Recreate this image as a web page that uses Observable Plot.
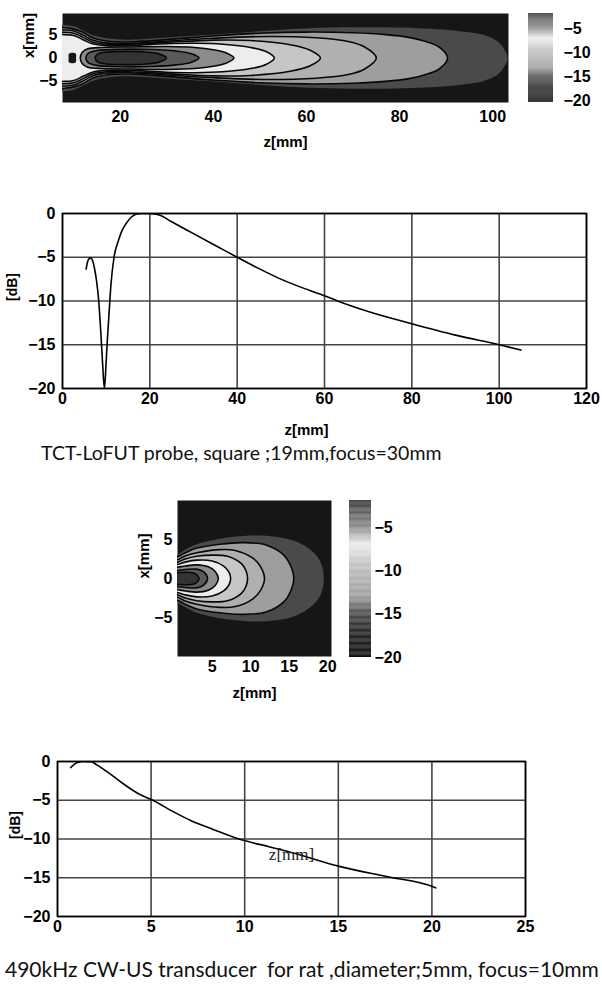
<!DOCTYPE html>
<html><head><meta charset="utf-8">
<script src="https://cdn.jsdelivr.net/npm/d3@7"></script>
<script src="https://cdn.jsdelivr.net/npm/@observablehq/plot@0.6"></script>
<style>
html,body{margin:0;padding:0;background:#fff}
body{width:602px;height:998px;position:relative;overflow:hidden}
.abs{position:absolute}
.cap{position:absolute;font-family:Lato,"Open Sans",sans-serif;color:#111;white-space:pre;line-height:1}
</style></head><body>
<div id="hm1" class="abs" style="left:0;top:0"></div>
<div id="cb1" class="abs" style="left:510px;top:0"></div>
<div id="ln1" class="abs" style="left:0;top:190px"></div>
<div id="cap1" class="cap" style="left:41px;top:443px;font-size:19.5px">TCT-LoFUT probe, square ;19mm,focus=30mm</div>
<div id="hm2" class="abs" style="left:0;top:490px"></div>
<div id="cb2" class="abs" style="left:330px;top:490px"></div>
<div id="ln2" class="abs" style="left:0;top:740px"></div>
<div id="cap2" class="cap" style="left:5px;top:958px;font-size:21px">490kHz CW-US transducer  for rat ,diameter;5mm, focus=10mm</div>
<script>
// ---------- colour map (dB -> grey) ----------
const cmapStops = [-20, -17, -15, -13, -11, -9, -7, -5, -3, -2];
const cmapGrays = ["#0e0e0e","#262626","#4a4a4a","#9e9e9e","#b0b0b0","#c6c6c6","#ededed","#8c8c8c","#5a5a5a","#333333"];
const barTicks = [-5, -10, -15, -20];

// ---------- TCT-LoFUT field: contour outlines (level dB, upper half-width points [z mm, x mm]) ----------
const fieldLevels1 = [-16, -14, -12, -10, -8, -6, -4, -2, -20];
const fieldOutlines1 = [
  [[4,7.2],[8,7.2],[10,6.9],[12,6.0],[14,5.0],[17,4.3],[21.6,4.0],[27.4,4.3],[35,4.8],[44,5.4],[52,6.0],[60.5,6.5],[70,6.7],[77,6.7],[84,6.5],[89.4,6.2],[94,5.7],[97.7,5.1],[100.5,4.0],[101.8,2.9],[103.2,0]],
  [[4,6.6],[8,6.6],[10,6.3],[12,5.6],[14,4.4],[17,3.7],[22,3.5],[30,4.0],[40,4.8],[50,5.4],[60,5.65],[70,5.5],[77,5.1],[82,4.5],[85.3,3.7],[88.5,2.4],[90.3,0]],
  [[4,6.0],[8,6.1],[10,5.9],[12,5.0],[14,3.9],[17,3.3],[22,3.2],[30,3.7],[40,4.3],[52,4.7],[62,4.4],[69,3.6],[72.5,2.4],[75,0]],
  [[4,5.4],[8,5.6],[10,5.4],[12,4.5],[14,3.5],[17,3.0],[22,3.0],[30,3.4],[40,3.9],[48,3.8],[56.5,2.9],[60.8,1.7],[63,0]],
  [[4,4.8],[8,5.1],[10,4.9],[12,4.0],[14,3.1],[17,2.7],[22,2.7],[30,3.1],[36,3.2],[42,3.0],[48,2.3],[51.3,1.4],[53.1,0]],
  [[11.4,0],[11.8,1.2],[13,2.0],[16,2.3],[22,2.4],[30,2.5],[36,2.3],[40,1.8],[42.8,1.1],[44.4,0]],
  [[12.6,0],[13.1,1.0],[15,1.6],[20,1.9],[27,1.85],[32,1.5],[35.3,0.9],[36.9,0]],
  [[14.6,0],[15.2,0.9],[17,1.3],[21,1.45],[25,1.35],[28.3,0.9],[29.9,0]],
  [[8.9,0],[9.0,1.0],[10.4,1.0],[10.5,0]]
];
const fieldLined1 = [false, true, true, true, true, true, true, true, false];
const zTicks1 = [20, 40, 60, 80, 100];
const xTicksField = [-5, 0, 5];

// ---------- TCT-LoFUT on-axis profile ----------
const zAxis1 = [5.4, 5.9, 6.4, 6.9, 7.3, 7.8, 8.3, 8.8, 9.2, 9.6, 10.0, 10.3, 10.6, 11.1, 11.8, 12.8, 13.5, 14.3, 15.0, 15.8, 17, 18, 20, 21, 22.3, 25, 30, 35, 40, 45, 50, 55, 60, 63, 70, 80, 90, 100, 105];
const dbAxis1 = [-6.35, -5.3, -5.07, -5.4, -6.2, -7.7, -10, -13.8, -17.3, -20, -16.9, -14.2, -11.9, -8.1, -5.0, -3.1, -2.1, -1.35, -0.85, -0.4, -0.05, 0, 0, -0.05, -0.2, -0.95, -2.3, -3.65, -5.0, -6.3, -7.5, -8.5, -9.4, -10.0, -11.2, -12.6, -13.9, -15.0, -15.6];
const lineXTicks1 = [0, 20, 40, 60, 80, 100, 120];
const dbTicks = [0, -5, -10, -15, -20];

// ---------- rat transducer field ----------
const fieldLevels2 = [-16, -14, -12, -10, -8, -6, -4, -2];
const fieldOutlines2 = [
  [[-1,2.9],[0.5,3.1],[1.5,3.7],[3,4.4],[6,5.1],[10,5.5],[13,5.4],[16,4.7],[18.3,3.2],[19.2,1.8],[19.5,0]],
  [[-1,2.6],[0.5,2.8],[1.5,3.3],[3,3.9],[6,4.4],[9,4.6],[12,4.3],[14.3,3.0],[15.2,1.6],[15.6,0]],
  [[-1,2.2],[0.5,2.4],[1.5,2.9],[3,3.3],[6,3.7],[8,3.6],[10.3,2.6],[11.3,1.5],[11.8,0]],
  [[-1,1.9],[0.5,2.1],[1.5,2.5],[3,2.85],[5,3.0],[7,2.85],[8.8,1.9],[9.4,1.0],[9.6,0]],
  [[-1,1.6],[0.5,1.8],[1.5,2.1],[3,2.35],[5,2.25],[6.5,1.6],[7.2,0.8],[7.4,0]],
  [[-1,1.3],[0.5,1.45],[1.5,1.6],[3,1.75],[4.5,1.5],[5.4,0.9],[5.8,0]],
  [[-1,1.0],[0.5,1.05],[1.5,1.15],[3,1.2],[3.9,0.85],[4.4,0]],
  [[-1,0.7],[0.5,0.75],[1.5,0.8],[2.5,0.75],[3.0,0.5],[3.3,0]]
];
const fieldLined2 = [false, true, true, true, true, true, true, true];
const zTicks2 = [5, 10, 15, 20];

// ---------- rat on-axis profile ----------
const zAxis2 = [0.7, 1.07, 1.38, 1.79, 2.1, 2.7, 3.53, 4.35, 5.07, 6.2, 7.2, 8.25, 9.7, 11.3, 12.6, 15, 17.7, 20, 20.2];
const dbAxis2 = [-0.78, -0.13, 0, -0.04, -0.43, -1.4, -2.9, -4.2, -4.96, -6.5, -7.7, -8.7, -10, -11.0, -11.8, -13.5, -14.9, -16.1, -16.3];
const lineXTicks2 = [0, 5, 10, 15, 20, 25];

// ---------- helpers ----------
const FONT = "'Liberation Sans', Arial, sans-serif";
const TICK = {tickSize: 0, fontSize: 16, fontWeight: "bold", label: null};
const colorOpt = {type: "linear", domain: cmapStops, range: cmapGrays, clamp: true};

function rings(levels, outlines, lined) {
  const out = [];
  levels.forEach((L, k) => {
    const pts = outlines[k];
    const band = L === -20 ? -19 : L + 1;
    const up = pts.map(([z, h]) => ({z, x: h, id: k, band, lined: lined[k]}));
    const low = pts.slice().reverse().filter(([z, h]) => h !== 0).map(([z, h]) => ({z, x: -h, id: k, band, lined: lined[k]}));
    out.push(...up, ...low);
  });
  return out;
}

function fieldPlot({data, zDomain, xDomain, zTicks, width, height, margins, bg, xPad, titleDy, titleDx}) {
  return Plot.plot({
    width, height, ...margins,
    style: {background: "transparent", fontFamily: FONT, color: "#000"},
    x: {domain: zDomain}, y: {domain: xDomain},
    color: colorOpt,
    marks: [
      Plot.frame({fill: d3.scaleLinear(cmapStops, cmapGrays).clamp(true)(bg), stroke: "none"}),
      Plot.line(data, {x: "z", y: "x", z: "id", fill: "band", stroke: "none", curve: "catmull-rom-closed", clip: true}),
      Plot.line(data.filter(d => d.lined), {x: "z", y: "x", z: "id", stroke: "#080808", strokeWidth: 1.6, curve: "catmull-rom-closed", clip: true}),
      Plot.axisX({ticks: zTicks, tickPadding: xPad, ...TICK}),
      Plot.axisY({ticks: xTicksField, tickPadding: 5, ...TICK}),
      Plot.text(["z[mm]"], {frameAnchor: "bottom", dy: titleDy, fontSize: 15, fontWeight: "bold"}),
      Plot.text(["x[mm]"], {frameAnchor: "left", dx: titleDx, rotate: -90, fontSize: 15, fontWeight: "bold"})
    ]
  });
}

function colorBar({yDomain, width, height, margins, pad}) {
  const step = 0.1;
  const vals = d3.range(yDomain[0], yDomain[1], step);
  return Plot.plot({
    width, height, ...margins,
    style: {background: "transparent", fontFamily: FONT, color: "#000"},
    x: {domain: [0, 1], axis: null},
    y: {domain: yDomain},
    color: colorOpt,
    marks: [
      Plot.rect(vals, {x1: 0, x2: 1, y1: d => d, y2: d => Math.min(d + step + 0.02, yDomain[1]), fill: d => d + step / 2}),
      Plot.axisY({anchor: "right", ticks: barTicks, tickPadding: pad, ...TICK})
    ]
  });
}

function linePlot({z, db, xDomain, xTicks, width, height, margins, titleDx, titleDy, inside}) {
  const pts = z.map((v, i) => ({z: v, db: db[i]}));
  const marks = [
    Plot.gridX(xTicks, {stroke: "#444", strokeOpacity: 1, strokeWidth: 1.6}),
    Plot.gridY(dbTicks, {stroke: "#444", strokeOpacity: 1, strokeWidth: 1.6}),
    Plot.frame({stroke: "#000", strokeWidth: 1.6}),
    Plot.line(pts, {x: "z", y: "db", stroke: "#000", strokeWidth: 1.6, curve: "monotone-x", clip: true}),
    Plot.axisX({ticks: xTicks, tickPadding: 4, ...TICK}),
    Plot.axisY({ticks: dbTicks, tickPadding: 7, ...TICK}),
    Plot.text(["[dB]"], {frameAnchor: "left", dx: titleDx, rotate: -90, fontSize: 14, fontWeight: "bold"})
  ];
  if (inside) marks.push(Plot.text([inside], {x: d => d.z, y: d => d.db, text: d => d.label, fontSize: 17, fontFamily: "'Liberation Serif', serif", fill: "#222"}));
  else marks.push(Plot.text(["z[mm]"], {frameAnchor: "bottom", dy: titleDy, dx: -18, fontSize: 15, fontWeight: "bold"}));
  return Plot.plot({
    width, height, ...margins,
    style: {background: "transparent", fontFamily: FONT, color: "#000"},
    x: {domain: xDomain}, y: {domain: [-20, 0]},
    marks
  });
}

// ---------- build ----------
document.getElementById("hm1").append(fieldPlot({
  data: rings(fieldLevels1, fieldOutlines1, fieldLined1),
  zDomain: [7.58, 103.4], xDomain: [-9.7, 9.7], zTicks: zTicks1,
  width: 520, height: 160, margins: {marginLeft: 62, marginRight: 12, marginTop: 13, marginBottom: 58}, bg: -19,
  xPad: 8, titleDy: 44, titleDx: -33
}));
document.getElementById("cb1").append(colorBar({
  yDomain: [-20.3, -1.8], width: 92, height: 115, pad: 10,
  margins: {marginLeft: 18, marginRight: 49, marginTop: 13, marginBottom: 13}
}));
document.getElementById("ln1").append(linePlot({
  z: zAxis1, db: dbAxis1, xDomain: [0, 120], xTicks: lineXTicks1,
  width: 602, height: 260, margins: {marginLeft: 62, marginRight: 16, marginTop: 23, marginBottom: 62},
  titleDx: -50, titleDy: 46
}));
document.getElementById("hm2").append(fieldPlot({
  data: rings(fieldLevels2, fieldOutlines2, fieldLined2),
  zDomain: [0.5, 20.5], xDomain: [-10, 10], zTicks: zTicks2,
  width: 340, height: 220, margins: {marginLeft: 177, marginRight: 9, marginTop: 10, marginBottom: 54}, bg: -19,
  xPad: 4, titleDy: 41, titleDx: -33
}));
document.getElementById("cb2").append(colorBar({
  yDomain: [-20, -1.9], width: 90, height: 180, pad: 3,
  margins: {marginLeft: 19, marginRight: 49, marginTop: 10, marginBottom: 13}
}));
document.getElementById("ln2").append(linePlot({
  z: zAxis2, db: dbAxis2, xDomain: [0, 25], xTicks: lineXTicks2,
  width: 602, height: 200, margins: {marginLeft: 57, marginRight: 77, marginTop: 21, marginBottom: 24},
  titleDx: -42, inside: {z: 12.5, db: -12.0, label: "z[mm]"}
}));
</script>
</body></html>
